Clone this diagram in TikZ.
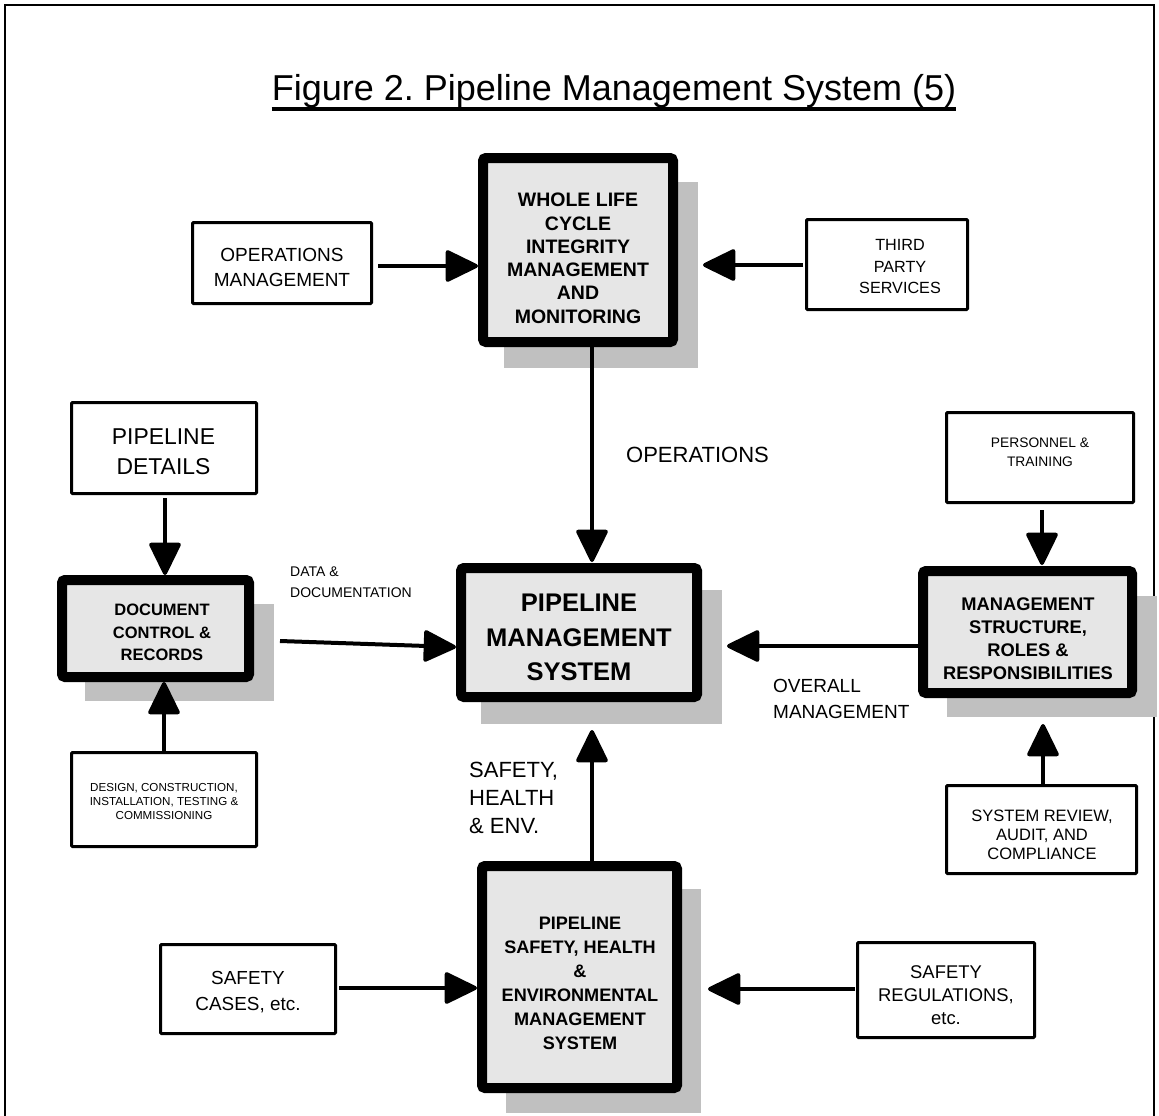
\documentclass[tikz,border=0pt]{standalone}
\usepackage{fontspec}
\setmainfont{Liberation Sans}
\usetikzlibrary{arrows.meta,calc}
\definecolor{boxgray}{HTML}{E6E6E6}
\definecolor{shadowgray}{HTML}{C0C0C0}
\newcommand\myfs[2]{\fontsize{#1}{#2}\selectfont}
\frenchspacing
\begin{document}
\begin{tikzpicture}[x=1pt,y=-1pt,
  thinbox/.style={draw, line width=3pt, outer sep=1.5pt, inner sep=0pt, fill=white, rounded corners=1pt},
  thickbox/.style={draw, line width=10pt, outer sep=5pt, inner sep=0pt, fill=boxgray, rounded corners=3pt},
  shade/.style={fill=shadowgray},
  conn/.style={line width=4pt, -{Triangle[length=35pt,width=33pt,round]}},
  boxtext/.style={align=center, inner sep=0pt},
  lbl/.style={align=left, anchor=west, inner sep=0pt},
]
\useasboundingbox (0,0) rectangle (1159,1116);
% frame
\draw[line width=2pt] (5,1117) -- (5,5) -- (1154,5) -- (1154,1117);
% title
\node[inner sep=0pt, anchor=base, font=\myfs{36}{40}] (title) at (614,100) {Figure 2. Pipeline Management System (5)};
\draw[line width=3.4pt] ($(title.base west)+(0,9)$) -- ($(title.base east)+(0,9)$);

% shadows
\fill[shade] (504,182) rectangle (698,368);
\fill[shade] (481,590) rectangle (722,724);
\fill[shade] (85,604) rectangle (274,701);
\fill[shade] (947,596) rectangle (1157,717);
\fill[shade] (506,889) rectangle (701,1113);

% thick boxes
\node[thickbox, minimum width=190pt, minimum height=184pt] (wl) at (578,250) {};
\node[thickbox, minimum width=236pt, minimum height=129pt] (pms) at (579,632.5) {};
\node[thickbox, minimum width=187pt, minimum height=97pt] (doc) at (155.5,628.5) {};
\node[thickbox, minimum width=209pt, minimum height=122pt] (ms) at (1027.5,632) {};
\node[thickbox, minimum width=195pt, minimum height=222pt] (psh) at (579.5,977) {};

% thin boxes
\node[thinbox, minimum width=179pt, minimum height=81pt] (ops) at (282,263) {};
\node[thinbox, minimum width=161pt, minimum height=90pt] (tps) at (887,264.5) {};
\node[thinbox, minimum width=185pt, minimum height=91pt] (pd) at (164,448) {};
\node[thinbox, minimum width=185pt, minimum height=94pt] (des) at (164,799.5) {};
\node[thinbox, minimum width=187pt, minimum height=90pt] (pt) at (1040,457.5) {};
\node[thinbox, minimum width=190pt, minimum height=88pt] (sr) at (1041.5,829.5) {};
\node[thinbox, minimum width=175pt, minimum height=89pt] (sc) at (248,989) {};
\node[thinbox, minimum width=177pt, minimum height=95pt] (srg) at (946,990) {};

% box texts
\node[boxtext, font=\bfseries\myfs{19.5}{23.3}] (wlt) at (578,258.3) {WHOLE LIFE\\CYCLE\\INTEGRITY\\MANAGEMENT\\AND\\MONITORING};
\node[boxtext, font=\bfseries\myfs{25.5}{34.5}] (pmst) at (579,637.5) {PIPELINE\\MANAGEMENT\\SYSTEM};
\node[boxtext, font=\bfseries\myfs{16.5}{22.5}] (doct) at (162,632.5) {DOCUMENT\\CONTROL \&\\RECORDS};
\node[boxtext, font=\bfseries\myfs{18.3}{23}] (mst) at (1028,638.5) {MANAGEMENT\\STRUCTURE,\\ROLES \&\\RESPONSIBILITIES};
\node[boxtext, font=\bfseries\myfs{18.1}{24}] (psht) at (580,983) {PIPELINE\\SAFETY, HEALTH\\\&\\ENVIRONMENTAL\\MANAGEMENT\\SYSTEM};
\node[boxtext, font=\myfs{19}{25}] (opst) at (282,267.5) {OPERATIONS\\MANAGEMENT};
\node[boxtext, font=\myfs{16.2}{21.7}] (tpst) at (900,266.7) {THIRD\\PARTY\\SERVICES};
\node[boxtext, font=\myfs{22.9}{30}] (pdt) at (163.5,451.7) {PIPELINE\\DETAILS};
\node[boxtext, font=\myfs{11.6}{14}] (dest) at (164,801) {DESIGN, CONSTRUCTION,\\INSTALLATION, TESTING \&\\COMMISSIONING};
\node[boxtext, font=\myfs{13.8}{19}] (ptt) at (1040,452.5) {PERSONNEL \&\\TRAINING};
\node[boxtext, font=\myfs{16.5}{19}] (srt) at (1042,835) {SYSTEM REVIEW,\\AUDIT, AND\\COMPLIANCE};
\node[boxtext, font=\myfs{18.9}{26}] (sct) at (248,992) {SAFETY\\CASES, etc.};
\node[boxtext, font=\myfs{18.4}{23}] (srgt) at (946,995) {SAFETY\\REGULATIONS,\\etc.};

% free labels
\node[lbl, font=\myfs{22}{26}] (lops) at (626,455) {OPERATIONS};
\node[lbl, font=\myfs{14}{21}] (ldata) at (290,582.5) {DATA \&\\DOCUMENTATION};
\node[lbl, font=\myfs{19}{26}] (lover) at (773,699) {OVERALL\\MANAGEMENT};
\node[lbl, font=\myfs{22}{28}] (lsafe) at (469,798) {SAFETY,\\HEALTH\\\& ENV.};

% connectors
\draw[conn] ($(ops.east)+(5,3)$) -- ($(wl.west)+(0,16)$);
\draw[conn] ($(tps.west)+(-2,0.5)$) -- ($(wl.east)+(25,15)$);
\draw[conn] ($(wl.south)+(14,0)$) -- ($(pms.north)+(13,-1)$);
\draw[conn] ($(pd.south)+(1,3)$) -- ($(doc.north)+(9.5,0)$);
\draw[conn] ($(des.north)+(0,0)$) -- ($(doc.south)+(8.5,0)$);
\draw[conn] ($(doc.east)+(26,12.5)$) -- ($(pms.west)+(0,14.5)$);
\draw[conn] ($(pt.south)+(2,6)$) -- ($(ms.north)+(14.5,-1)$);
\draw[conn] ($(ms.west)+(0,14)$) -- ($(pms.east)+(25,13.5)$);
\draw[conn] ($(sr.north)+(1.5,0)$) -- ($(ms.south)+(15.5,26)$);
\draw[conn] ($(psh.north)+(12.5,0)$) -- ($(pms.south)+(13,28)$);
\draw[conn] ($(sc.east)+(2,-1)$) -- ($(psh.west)+(0,11)$);
\draw[conn] ($(srg.west)+(-1,-1)$) -- ($(psh.east)+(26,12)$);
\end{tikzpicture}
\end{document}
